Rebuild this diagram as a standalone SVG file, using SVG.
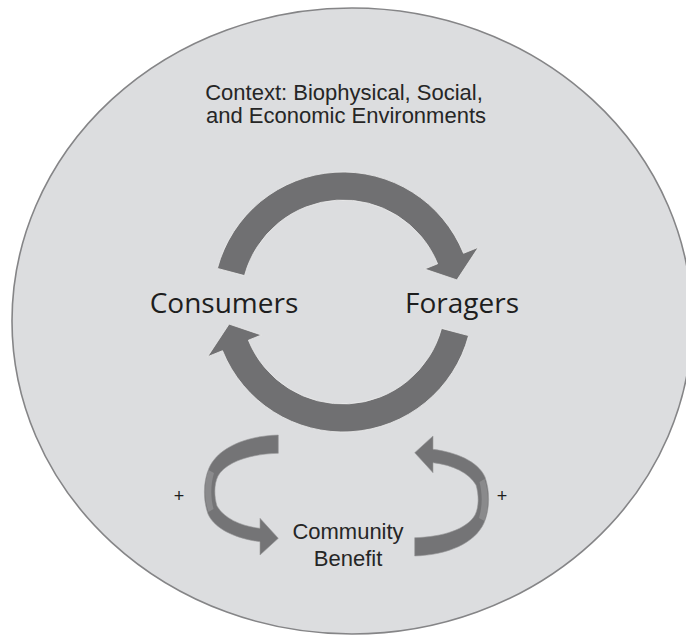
<svg xmlns="http://www.w3.org/2000/svg" width="686" height="637" viewBox="0 0 686 637">
  <style>
    .ctx { font-family: "Liberation Sans", Arial, sans-serif; font-size: 22px; fill: #262626; text-anchor: middle; }
    .big { font-family: "Open Sans", "Noto Sans", sans-serif; font-size: 28px; fill: #1e1e1e; text-anchor: middle; }
    .plus { font-family: "Liberation Sans", Arial, sans-serif; font-size: 18px; fill: #1e1e1e; text-anchor: middle; }
    .arrow { fill: #707072; stroke: #ececec; stroke-width: 0.8; }
    .ribbon { fill: #747476; stroke: #9a9a9c; stroke-width: 0.6; }
    .twist { fill: #8a8a8c; stroke: none; }
  </style>
  <defs>
    <path id="cycleArrow" d="M 217.4 268.4 A 130 130 0 0 1 463.5 253.3 L 478.4 247.3 L 456.9 279.9 L 424.6 269 L 437.6 263.8 A 102 102 0 0 0 244.5 275.6 Z"/>
    <g id="ribbonArrow">
      <path class="ribbon" d="M 278.3 435 C 245 436 218 448 209 468 C 203 482 203 500 208 514 C 215 530 238 539 260 541.7 L 260 555 L 278.3 538.3 L 260 518.3 L 260 528.3 C 240 526 224 518 217 506 C 214 496 214 484 218 476 C 226 462 250 454 278.3 453.3 Z"/>
      <path class="twist" d="M 208.5 470 C 204 483 204 499 208.5 512 L 213.5 509 C 210.5 497 210.5 485 214 473 Z"/>
    </g>
  </defs>
  <rect x="0" y="0" width="686" height="637" fill="#ffffff"/>
  <g id="context">
    <ellipse cx="352" cy="321" rx="340" ry="313" fill="#dcdddf" stroke="#858587" stroke-width="1.6"/>
    <text class="ctx" x="344" y="100">Context: Biophysical, Social,</text>
    <text class="ctx" x="346" y="123">and Economic Environments</text>
  </g>
  <g id="connectors">
    <use href="#cycleArrow" class="arrow"/>
    <use href="#cycleArrow" class="arrow" transform="rotate(180 343 302)"/>
    <use href="#ribbonArrow"/>
    <use href="#ribbonArrow" transform="rotate(180 346.5 495.5)"/>
    <text class="plus" x="179" y="502">+</text>
    <text class="plus" x="502" y="502">+</text>
  </g>
  <g id="consumers">
    <text class="big" x="224" y="313">Consumers</text>
  </g>
  <g id="foragers">
    <text class="big" x="462" y="313">Foragers</text>
  </g>
  <g id="community-benefit">
    <text class="ctx" x="348" y="539">Community</text>
    <text class="ctx" x="348" y="566">Benefit</text>
  </g>
</svg>
